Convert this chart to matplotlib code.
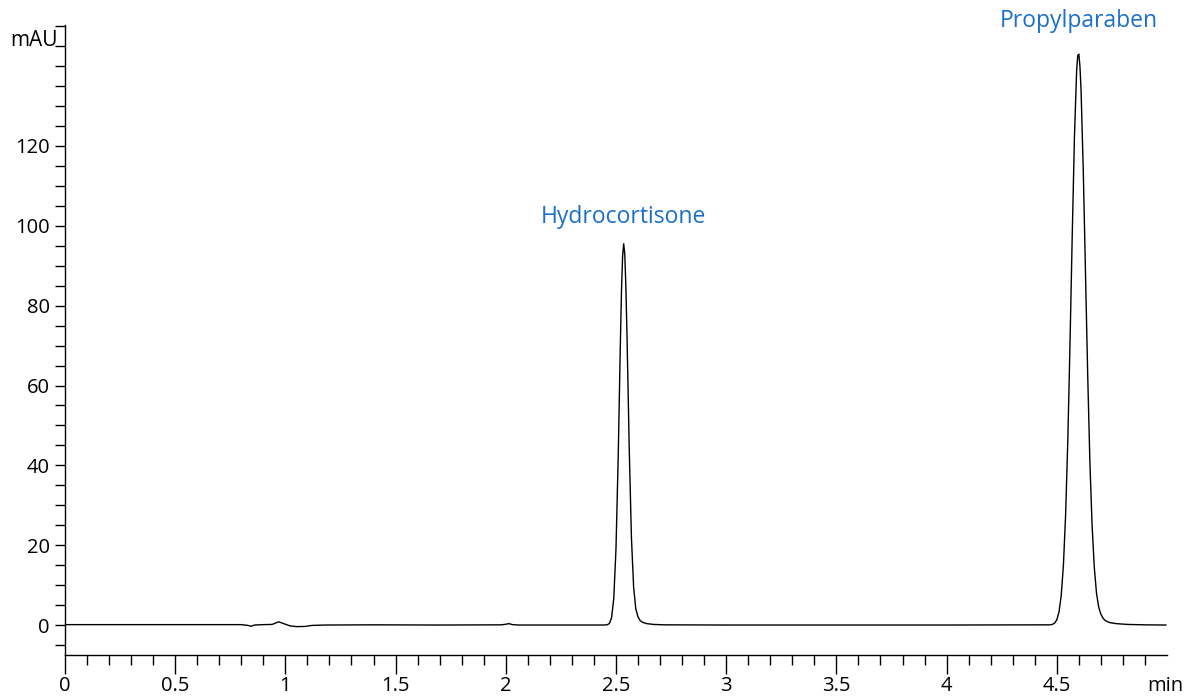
import matplotlib.pyplot as plt
from matplotlib.ticker import MultipleLocator, FixedLocator, FuncFormatter

plt.rcParams['font.family'] = ['Open Sans', 'DejaVu Sans']

# retention time (min) and absorbance (mAU)
t = [0.0, 0.50, 0.80, 0.83, 0.845, 0.86, 0.90, 0.94, 0.96, 0.97, 0.99, 1.02,
     1.05, 1.09, 1.12, 1.18, 1.40, 1.70, 1.98, 2.00, 2.015, 2.03, 2.06, 2.30,
     2.44, 2.46, 2.47, 2.48, 2.49, 2.50, 2.51, 2.515, 2.52, 2.525, 2.53, 2.535,
     2.54, 2.545, 2.55, 2.555, 2.56, 2.57, 2.58, 2.59, 2.60, 2.61, 2.62, 2.64,
     2.67, 2.72, 3.00, 3.50, 4.00, 4.47,
     4.48, 4.49, 4.50, 4.51, 4.52, 4.53, 4.54, 4.55, 4.56, 4.57, 4.58, 4.59,
     4.595, 4.60, 4.605, 4.61, 4.62, 4.63, 4.64, 4.65, 4.66, 4.67, 4.68, 4.69,
     4.70, 4.71, 4.72, 4.74, 4.77, 4.82, 4.90, 4.995]
mau = [0.1, 0.1, 0.1, -0.1, -0.3, 0.0, 0.1, 0.15, 0.6, 0.8, 0.4, -0.2,
       -0.4, -0.35, -0.1, 0.0, 0.05, 0.0, 0.05, 0.2, 0.35, 0.1, 0.0, 0.0,
       0.0, 0.06, 0.37, 1.8, 6.7, 19.1, 42.0, 56.4, 71.0, 83.7, 92.4, 95.5,
       92.8, 84.5, 72.5, 58.5, 44.5, 22.0, 9.5, 4.0, 2.0, 1.1, 0.7, 0.35,
       0.15, 0.05, 0.0, 0.0, 0.0, 0.05,
       0.16, 0.48, 1.3, 3.3, 7.4, 15.0, 27.7, 46.5, 70.8, 97.7, 122.3, 138.9,
       142.7, 143.0, 139.9, 134.0, 114.0, 88.5, 63.0, 41.0, 25.0, 14.5, 8.0, 4.5,
       2.7, 1.7, 1.1, 0.6, 0.35, 0.15, 0.05, 0.0]

x_major = [0, 0.5, 1, 1.5, 2, 2.5, 3, 3.5, 4, 4.5]
y_major = [0, 20, 40, 60, 80, 100, 120]

peak_names = ['Hydrocortisone', 'Propylparaben']
peak_pos = [(2.535, 99.3), (4.598, 148.3)]

fig = plt.figure(figsize=(11.94, 6.97), dpi=100)
ax = fig.add_axes([0.0544, 0.0603, 0.9230, 0.9038])
ax.plot(t, mau, color='black', lw=1.0)

ax.set_xlim(0, 5.0)
ax.set_ylim(-7.5, 150.3)
for s in ['top', 'right']:
    ax.spines[s].set_visible(False)
for s in ['left', 'bottom']:
    ax.spines[s].set_linewidth(1.0)

ax.xaxis.set_major_locator(FixedLocator(x_major))
ax.xaxis.set_minor_locator(FixedLocator([i / 10 for i in range(50)]))
ax.yaxis.set_major_locator(FixedLocator(y_major))
ax.yaxis.set_minor_locator(MultipleLocator(5))
ax.xaxis.set_major_formatter(FuncFormatter(lambda v, p: ('%g' % v)))
ax.tick_params(axis='x', which='major', length=14, width=1, labelsize=14.5, pad=1.5)
ax.tick_params(axis='x', which='minor', length=7, width=1)
ax.tick_params(axis='y', which='both', length=7, width=1, labelsize=14.5, pad=4)

# peak labels
for name, (x, y) in zip(peak_names, peak_pos):
    ax.text(x, y, name, color='#1b6fcc', fontsize=16.5, ha='center', va='bottom')

fig.text(58 / 1194, 1 - 40 / 697, 'mAU', fontsize=15, ha='right', va='center')
fig.text(1165 / 1194, 1 - 686 / 697, 'min', fontsize=14.5, ha='center', va='center')

plt.savefig('out.png', dpi=100)
plt.close()
